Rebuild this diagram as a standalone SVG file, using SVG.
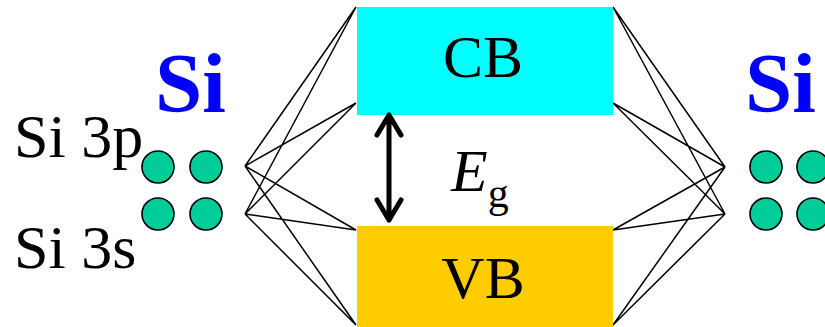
<svg xmlns="http://www.w3.org/2000/svg" width="825" height="327" viewBox="0 0 825 327">
<style>
.t{font-family:"Liberation Serif","Times New Roman",serif;fill:#000}
.si{font-family:"Liberation Serif","Times New Roman",serif;font-weight:bold;fill:#0000FF;font-size:85px}
.orb{fill:#00CC99;stroke:#000;stroke-width:1.6}
.ln{stroke:#000;stroke-width:1.5;fill:none}
.arr{stroke:#000;stroke-width:5;fill:none;stroke-linecap:round;stroke-linejoin:round}
</style>
<rect width="825" height="327" fill="#fff"/>
<g id="connectors">
<path class="ln" d="M245,166 L356,7 M245,166 L356,103 M245,166 L356,230 M245,166 L356,325 M245,214 L356,7 M245,214 L356,103 M245,214 L356,230 M245,214 L356,325"/>
<path class="ln" d="M725,167 L613,7 M725,167 L613,103 M725,167 L613,230 M725,167 L613,325 M725,214 L613,7 M725,214 L613,103 M725,214 L613,230 M725,214 L613,325"/>
</g>
<g id="CB">
<rect x="357" y="7" width="256" height="108" fill="#00FFFF"/>
<text class="t" x="483" y="77" font-size="60" text-anchor="middle">CB</text>
</g>
<g id="VB">
<rect x="357" y="226" width="256" height="101" fill="#FFCC00"/>
<text class="t" x="483" y="298" font-size="60" text-anchor="middle">VB</text>
</g>
<g id="gap">
<path class="arr" d="M389,115 L389,220 M377,135 L389,115 L401,135 M377,200 L389,220 L401,200"/>
<text class="t" x="451" y="191" font-size="60"><tspan font-style="italic">E</tspan><tspan font-size="42" dy="16">g</tspan></text>
</g>
<g id="si-left">
<text class="si" x="155" y="112">Si</text>
<text class="t" x="14" y="157" font-size="62">Si 3p</text>
<text class="t" x="14" y="268" font-size="62">Si 3s</text>
<circle class="orb" cx="158" cy="167" r="16"/>
<circle class="orb" cx="206" cy="167" r="16"/>
<circle class="orb" cx="158" cy="214" r="16"/>
<circle class="orb" cx="206" cy="214" r="16"/>
</g>
<g id="si-right">
<text class="si" x="745" y="112">Si</text>
<circle class="orb" cx="766" cy="167" r="16"/>
<circle class="orb" cx="813" cy="167" r="16"/>
<circle class="orb" cx="766" cy="214" r="16"/>
<circle class="orb" cx="813" cy="214" r="16"/>
</g>
</svg>
